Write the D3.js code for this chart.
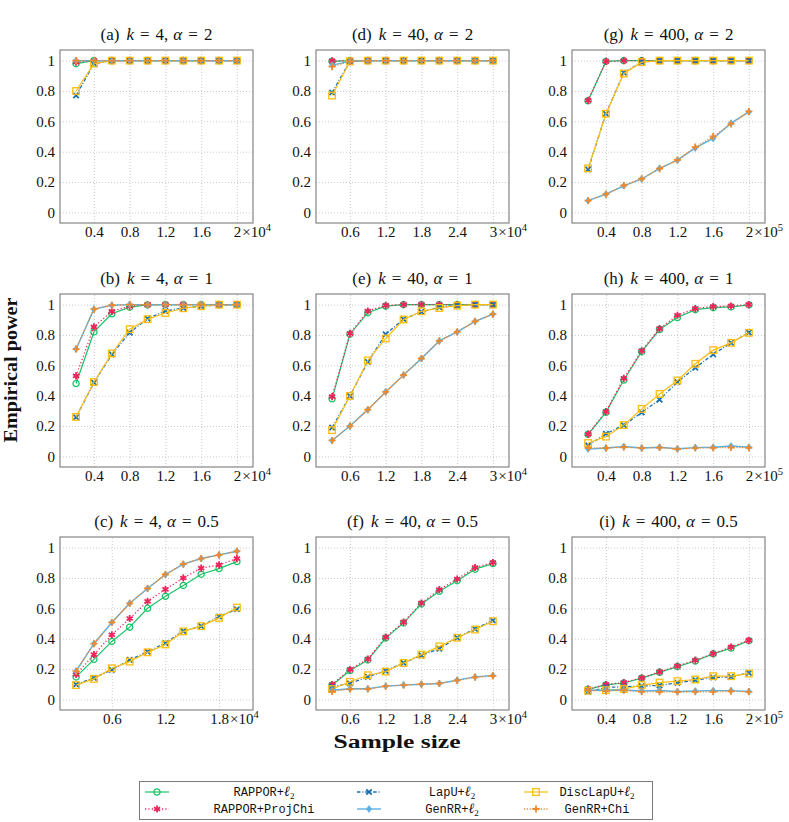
<!DOCTYPE html>
<html><head><meta charset="utf-8">
<script src="https://cdn.jsdelivr.net/npm/d3@7"></script>
<style>
body{margin:0;background:#fff}
svg{display:block}
</style></head><body>
<svg id="chart" width="789" height="822"></svg>
<script>
// ---------------- DATA ----------------
const panelLabels = ["a","b","c","d","e","f","g","h","i"];
const panelK = [4,4,4,40,40,40,400,400,400];
const panelAlpha = ["2","1","0.5","2","1","0.5","2","1","0.5"];

const xK4 = [2000,4000,6000,8000,10000,12000,14000,16000,18000,20000];
const xK40 = [3000,6000,9000,12000,15000,18000,21000,24000,27000,30000];
const xK400 = [20000,40000,60000,80000,100000,120000,140000,160000,180000,200000];

const ticksK4 = [4000,8000,12000,16000,20000];
const ticksK4c = [6000,12000,18000];
const ticksK40 = [6000,12000,18000,24000,30000];
const ticksK400 = [40000,80000,120000,160000,200000];
const yTicks = [0,0.2,0.4,0.6,0.8,1];

const seriesNames = ["RAPPOR+ℓ2","RAPPOR+ProjChi","LapU+ℓ2","DiscLapU+ℓ2","GenRR+ℓ2","GenRR+Chi"];

// rows: panels a..i
const rapporL2 = [
  [0.98,1,1,1,1,1,1,1,1,1],
  [0.48,0.82,0.94,0.983,0.998,1,1,1,1,1],
  [0.148,0.264,0.382,0.476,0.600,0.679,0.751,0.825,0.862,0.908],
  [0.995,1,1,1,1,1,1,1,1,1],
  [0.379,0.805,0.947,0.99,1,1,1,1,1,1],
  [0.093,0.19,0.26,0.404,0.504,0.629,0.712,0.782,0.858,0.895],
  [0.735,0.995,1,1,1,1,1,1,1,1],
  [0.145,0.29,0.503,0.69,0.836,0.915,0.967,0.98,0.985,0.998],
  [0.066,0.095,0.108,0.14,0.178,0.216,0.253,0.3,0.338,0.387]
];
const rapporProjChi = [
  [0.99,1,1,1,1,1,1,1,1,1],
  [0.53,0.853,0.956,0.99,1,1,1,1,1,1],
  [0.164,0.295,0.426,0.533,0.646,0.725,0.8,0.865,0.886,0.928],
  [0.998,1,1,1,1,1,1,1,1,1],
  [0.394,0.81,0.958,0.995,1,1,1,1,1,1],
  [0.098,0.197,0.266,0.41,0.509,0.635,0.723,0.793,0.869,0.902],
  [0.738,0.995,1,1,1,1,1,1,1,1],
  [0.147,0.295,0.514,0.696,0.842,0.93,0.974,0.987,0.991,1.0],
  [0.068,0.098,0.111,0.142,0.181,0.22,0.258,0.301,0.345,0.389]
];
const lapUL2 = [
  [0.77,0.98,1,1,1,1,1,1,1,1],
  [0.258,0.486,0.672,0.816,0.908,0.958,0.978,0.99,0.997,1],
  [0.098,0.142,0.194,0.26,0.314,0.371,0.45,0.483,0.546,0.594],
  [0.79,0.995,1,1,1,1,1,1,1,1],
  [0.19,0.398,0.623,0.805,0.904,0.952,0.983,0.996,1,1],
  [0.083,0.105,0.148,0.188,0.24,0.29,0.334,0.406,0.465,0.52],
  [0.283,0.65,0.92,0.99,1,1,1,1,1,1],
  [0.072,0.149,0.206,0.289,0.374,0.49,0.584,0.672,0.748,0.816],
  [0.05,0.079,0.083,0.087,0.092,0.109,0.127,0.144,0.148,0.175]
];
const discLapUL2 = [
  [0.80,0.98,1,1,1,1,1,1,1,1],
  [0.26,0.49,0.678,0.838,0.904,0.945,0.976,0.99,1,1],
  [0.094,0.135,0.205,0.249,0.31,0.362,0.448,0.483,0.537,0.605],
  [0.77,0.995,1,1,1,1,1,1,1,1],
  [0.173,0.398,0.632,0.777,0.902,0.956,0.978,0.993,1,1],
  [0.068,0.116,0.159,0.183,0.24,0.295,0.349,0.406,0.46,0.515],
  [0.29,0.65,0.915,0.99,1,1,1,1,1,1],
  [0.088,0.13,0.206,0.313,0.411,0.5,0.61,0.7,0.748,0.814],
  [0.057,0.061,0.068,0.094,0.111,0.12,0.131,0.153,0.153,0.17]
];
const genRRL2 = [
  [1,1,1,1,1,1,1,1,1,1],
  [0.707,0.97,0.996,1,1,1,1,1,1,1],
  [0.186,0.367,0.507,0.633,0.731,0.823,0.891,0.928,0.952,0.976],
  [0.97,0.995,1,1,1,1,1,1,1,1],
  [0.105,0.2,0.308,0.425,0.536,0.645,0.761,0.82,0.89,0.937],
  [0.06,0.07,0.07,0.087,0.094,0.1,0.105,0.127,0.148,0.157],
  [0.077,0.12,0.175,0.22,0.29,0.344,0.425,0.487,0.588,0.662],
  [0.048,0.055,0.065,0.055,0.06,0.05,0.058,0.06,0.068,0.06],
  [0.06,0.06,0.062,0.055,0.058,0.052,0.055,0.058,0.058,0.052]
];
const genRRChi = [
  [1,1,1,1,1,1,1,1,1,1],
  [0.707,0.97,0.996,1,1,1,1,1,1,1],
  [0.186,0.367,0.507,0.633,0.731,0.823,0.891,0.928,0.952,0.976],
  [0.96,0.995,1,1,1,1,1,1,1,1],
  [0.105,0.2,0.308,0.425,0.536,0.645,0.761,0.82,0.89,0.937],
  [0.052,0.068,0.068,0.087,0.094,0.1,0.105,0.125,0.145,0.155],
  [0.078,0.12,0.177,0.222,0.288,0.345,0.43,0.5,0.583,0.665],
  [0.057,0.055,0.06,0.055,0.058,0.048,0.055,0.057,0.058,0.057],
  [0.06,0.055,0.06,0.05,0.05,0.048,0.05,0.05,0.053,0.05]
];

// ---------------- STYLE ----------------
const serif = "'Liberation Serif','Times New Roman',serif";
const mono = "'Liberation Mono','DejaVu Sans Mono',monospace";
const seriesData = [rapporL2, rapporProjChi, lapUL2, discLapUL2, genRRL2, genRRChi];
const seriesStyle = [
  {color:"#19c466", dash:null, width:1.2, marker:"circle"},
  {color:"#f0245c", dash:"1.2,2.2", width:1.3, marker:"asterisk"},
  {color:"#1a70b4", dash:"3.5,1.8,1,1.8", width:1.3, marker:"x"},
  {color:"#fdbe12", dash:null, width:1.2, marker:"square"},
  {color:"#5cb0e4", dash:null, width:1.4, marker:"diamond"},
  {color:"#ee8a2e", dash:"1.2,1.6", width:1.3, marker:"plus"}
];

const colX = [60, 316, 572];
const rowY = [50, 294, 537];
const W = 193, H = 173;

const panelX = [xK4,xK4,xK4,xK40,xK40,xK40,xK400,xK400,xK400];
const panelTicks = [ticksK4,ticksK4,ticksK4c,ticksK40,ticksK40,ticksK40,ticksK400,ticksK400,ticksK400];
const panelExp = [4,4,4,4,4,4,5,5,5];

const svg = d3.select("#chart");

function drawMarker(sel, type, color){
  if(type==="circle"){
    sel.append("circle").attr("r",3.1).attr("fill","none").attr("stroke",color).attr("stroke-width",1.3);
  } else if(type==="asterisk"){
    const r=3.6; let d="";
    for(let a=0;a<3;a++){const t=Math.PI/2+a*Math.PI/3; const dx=r*Math.cos(t), dy=r*Math.sin(t); d+=`M${-dx},${-dy}L${dx},${dy}`;}
    sel.append("path").attr("d",d).attr("stroke",color).attr("stroke-width",1.8).attr("fill","none");
  } else if(type==="x"){
    const r=2.7;
    sel.append("path").attr("d",`M${-r},${-r}L${r},${r}M${-r},${r}L${r},${-r}`).attr("stroke",color).attr("stroke-width",1.8).attr("fill","none");
  } else if(type==="square"){
    sel.append("rect").attr("x",-3.3).attr("y",-3.3).attr("width",6.6).attr("height",6.6).attr("fill","none").attr("stroke",color).attr("stroke-width",1.3);
  } else if(type==="diamond"){
    sel.append("path").attr("d","M0,-3.5L2.6,0L0,3.5L-2.6,0Z").attr("fill",color).attr("stroke",color).attr("stroke-width",0.6);
  } else if(type==="plus"){
    const r=3.5;
    sel.append("path").attr("d",`M${-r},0L${r},0M0,${-r}L0,${r}`).attr("stroke",color).attr("stroke-width",1.8).attr("fill","none");
  }
}

const fmt = d3.format("~g");

panelLabels.forEach((lab,p)=>{
  const col = Math.floor(p/3), row = p%3;
  const xs = panelX[p];
  const exp = panelExp[p];
  const x0 = colX[col], y0 = rowY[row];
  const xmin = d3.min(xs), xmax = d3.max(xs), pad = 0.1*(xmax-xmin);
  const x = d3.scaleLinear().domain([xmin-pad, xmax+pad]).range([0,W]);
  const y = d3.scaleLinear().domain([-0.07,1.07]).range([H,0]);
  const g = svg.append("g").attr("transform",`translate(${x0},${y0})`);

  // grid
  const gy = g.append("g").call(d3.axisLeft(y).tickValues(yTicks).tickSize(-W).tickFormat(""));
  const gx = g.append("g").attr("transform",`translate(0,${H})`).call(d3.axisBottom(x).tickValues(panelTicks[p]).tickSize(-H).tickFormat(""));
  [gy,gx].forEach(a=>{
    a.select(".domain").remove();
    a.selectAll(".tick line").attr("stroke","#bdbdbd").attr("stroke-width",0.8).attr("stroke-dasharray","1,2");
  });

  // axes labels
  const ay = g.append("g").call(d3.axisLeft(y).tickValues(yTicks).tickSize(0).tickPadding(5).tickFormat(fmt));
  ay.select(".domain").remove();
  ay.selectAll("text").attr("font-family",serif).attr("font-size","15px").attr("fill","#111");
  const ax = g.append("g").attr("transform",`translate(0,${H})`)
    .call(d3.axisBottom(x).tickValues(panelTicks[p]).tickSize(0).tickPadding(3).tickFormat(d=>fmt(+(d/Math.pow(10,exp)).toFixed(6))));
  ax.select(".domain").remove();
  ax.selectAll("text").attr("font-family",serif).attr("font-size","15px").attr("fill","#111");
  const nodes = ax.selectAll(".tick text").nodes();
  const last = nodes[nodes.length-1];
  const w = last.getComputedTextLength();
  const lt = d3.select(last).attr("text-anchor","start").attr("x",-w/2);
  lt.append("tspan").attr("dx",1).text("×10");
  lt.append("tspan").attr("dy","-0.5em").attr("font-size","10.5px").text(exp);

  // box
  g.append("rect").attr("width",W).attr("height",H).attr("fill","none").attr("stroke","#7a7a7a").attr("stroke-width",1.1);

  // title
  const t = g.append("text").attr("x",W/2).attr("y",-10).attr("text-anchor","middle")
    .attr("font-family",serif).attr("font-size","17px").attr("fill","#111");
  t.append("tspan").text(`(${lab})`);
  t.append("tspan").attr("dx",7).attr("font-style","italic").text("k");
  t.append("tspan").attr("dx",6).text("=");
  t.append("tspan").attr("dx",6).text(`${panelK[p]},`);
  t.append("tspan").attr("dx",5).attr("font-style","italic").text("α");
  t.append("tspan").attr("dx",6).text("=");
  t.append("tspan").attr("dx",6).text(panelAlpha[p]);

  // series
  const line = d3.line().x((d,i)=>x(xs[i])).y(d=>y(d));
  seriesData.forEach((sd,s)=>{
    const st = seriesStyle[s];
    const vals = sd[p];
    g.append("path").attr("d",line(vals)).attr("fill","none").attr("stroke",st.color)
      .attr("stroke-width",st.width).attr("stroke-dasharray",st.dash);
    vals.forEach((v,i)=>{
      const m = g.append("g").attr("transform",`translate(${x(xs[i])},${y(v)})`);
      drawMarker(m, st.marker, st.color);
    });
  });
});

// axis titles
svg.append("text").attr("transform","translate(17,370) rotate(-90)").attr("text-anchor","middle")
  .attr("font-family",serif).attr("font-weight","bold").attr("font-size","18px").attr("fill","#111")
  .attr("textLength",145).attr("lengthAdjust","spacingAndGlyphs").text("Empirical power");
svg.append("text").attr("x",397).attr("y",748).attr("text-anchor","middle")
  .attr("font-family",serif).attr("font-weight","bold").attr("font-size","18px").attr("fill","#111")
  .attr("textLength",127).attr("lengthAdjust","spacingAndGlyphs").text("Sample size");

// legend
const lg = svg.append("g");
lg.append("rect").attr("x",139.5).attr("y",781.5).attr("width",513).attr("height",38).attr("fill","#fff").attr("stroke","#7a7a7a");
const legLineX = [145, 357, 524];
const legTextX = [264, 452, 597];
const legRowY = [792, 809];
// legend order: row-major in 3 columns
const legendOrder = [0,2,3,1,4,5];
legendOrder.forEach((s,idx)=>{
  const r = Math.floor(idx/3), c = idx%3;
  const st = seriesStyle[s];
  const ly = legRowY[r];
  lg.append("line").attr("x1",legLineX[c]).attr("x2",legLineX[c]+24).attr("y1",ly).attr("y2",ly)
    .attr("stroke",st.color).attr("stroke-width",st.width).attr("stroke-dasharray",st.dash);
  const m = lg.append("g").attr("transform",`translate(${legLineX[c]+12},${ly})`);
  drawMarker(m, st.marker, st.color);
  const name = seriesNames[s];
  const txt = lg.append("text").attr("x",legTextX[c]).attr("y",ly+4).attr("text-anchor","middle")
    .attr("font-family",mono).attr("font-size","12px").attr("fill","#111");
  if(name.endsWith("ℓ2")){
    const base = name.slice(0,-2);
    txt.append("tspan").text(base);
    txt.append("tspan").attr("font-family",serif).attr("font-style","italic").attr("font-size","14px").text("ℓ");
    txt.append("tspan").attr("font-family",serif).attr("font-size","9px").attr("dy","3").text("2");
  } else {
    txt.text(name);
  }
});
</script>
</body></html>
